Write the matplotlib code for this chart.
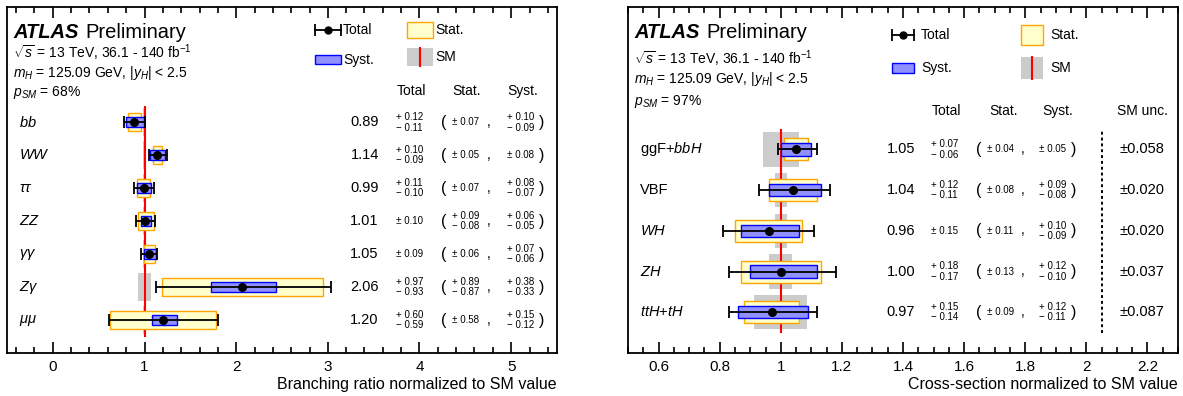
import numpy as np
import matplotlib
matplotlib.use('Agg')
from matplotlib import pyplot as plt
from matplotlib.patches import Rectangle
from matplotlib.ticker import MultipleLocator, FuncFormatter

plt.rcParams['font.family'] = ['Liberation Sans', 'DejaVu Sans']
plt.rcParams['mathtext.fontset'] = 'custom'
plt.rcParams['mathtext.rm'] = 'Liberation Sans'
plt.rcParams['mathtext.it'] = 'Liberation Sans:italic'
plt.rcParams['mathtext.bf'] = 'Liberation Sans:bold'

# branching ratios (left panel), top to bottom
brLabels = [r'$bb$', r'$WW$', r'$\tau\tau$', r'$ZZ$', r'$\gamma\gamma$', r'$Z\gamma$', r'$\mu\mu$']
brVal = [0.89, 1.14, 0.99, 1.01, 1.05, 2.06, 1.20]
brTotUp = [0.12, 0.10, 0.11, 0.10, 0.09, 0.97, 0.60]
brTotDn = [0.11, 0.09, 0.10, 0.10, 0.09, 0.93, 0.59]
brStatUp = [0.07, 0.05, 0.07, 0.09, 0.06, 0.89, 0.58]
brStatDn = [0.07, 0.05, 0.07, 0.08, 0.06, 0.87, 0.58]
brSystUp = [0.10, 0.08, 0.08, 0.06, 0.07, 0.38, 0.15]
brSystDn = [0.09, 0.08, 0.07, 0.05, 0.06, 0.33, 0.12]
brSmUnc = [0.02, 0.02, 0.02, 0.02, 0.02, 0.07, 0.02]

# production cross-sections (right panel), top to bottom
xsLabels = [r'ggF+$bbH$', 'VBF', r'$WH$', r'$ZH$', r'$ttH$+$tH$']
xsVal = [1.05, 1.04, 0.96, 1.00, 0.97]
xsTotUp = [0.07, 0.12, 0.15, 0.18, 0.15]
xsTotDn = [0.06, 0.11, 0.15, 0.17, 0.14]
xsStatUp = [0.04, 0.08, 0.11, 0.13, 0.09]
xsStatDn = [0.04, 0.08, 0.11, 0.13, 0.09]
xsSystUp = [0.05, 0.09, 0.10, 0.12, 0.12]
xsSystDn = [0.05, 0.08, 0.09, 0.10, 0.11]
xsSmUnc = [0.058, 0.020, 0.020, 0.037, 0.087]


def UncText(up, dn):
    if up == dn:
        return u'\u00b1 %.2f' % up
    return u'+ %.2f\n\u2212 %.2f' % (up, dn)


def DrawRows(ax, labels, val, totUp, totDn, statUp, statDn, systUp, systDn, smUnc, col):
    n = len(labels)
    ypos = np.arange(n)[::-1]
    ax.barh(ypos, np.multiply(smUnc, 2), left=np.subtract(1, smUnc), height=0.84,
            color='#cccccc', zorder=1)
    ax.vlines(1, -0.5, n - 0.5, colors='#ff0000', lw=1.5, zorder=2)
    ax.barh(ypos, np.add(statUp, statDn), left=np.subtract(val, statDn), height=0.54,
            color='#ffffcc', edgecolor='#ffa500', lw=1.0, zorder=3)
    ax.barh(ypos, np.add(systUp, systDn), left=np.subtract(val, systDn), height=0.3,
            color='#9090ff', edgecolor='#0000ff', lw=1.0, zorder=4)
    ax.errorbar(val, ypos, xerr=[totDn, totUp], fmt='o', color='black', ms=5.5,
                capsize=4.3, elinewidth=1.3, capthick=1.3, zorder=5)

    tr = ax.get_yaxis_transform()
    for i in range(n):
        y = ypos[i]
        ax.text(col['label'], y, labels[i], transform=tr, ha='left', va='center', fontsize=10.5)
        ax.text(col['val'], y, '%.2f' % val[i], transform=tr, ha='right', va='center', fontsize=10.5)
        ax.text(col['tot'], y, UncText(totUp[i], totDn[i]), transform=tr, ha='left',
                va='center', fontsize=7, linespacing=1.05)
        ax.text(col['lp'], y, '(', transform=tr, ha='left', va='center', fontsize=11.5)
        ax.text(col['stat'], y, UncText(statUp[i], statDn[i]), transform=tr, ha='left',
                va='center', fontsize=7, linespacing=1.05)
        ax.annotate(',', xy=(col['comma'], y), xycoords=tr, xytext=(0, -2.5),
                    textcoords='offset points', ha='left', va='baseline', fontsize=10)
        ax.text(col['syst'], y, UncText(systUp[i], systDn[i]), transform=tr, ha='left',
                va='center', fontsize=7, linespacing=1.05)
        ax.text(col['rp'], y, ')', transform=tr, ha='left', va='center', fontsize=11.5)
    for name, key in [('Total', 'hTot'), ('Stat.', 'hStat'), ('Syst.', 'hSyst')]:
        ax.text(col[key], col['hy'], name, transform=ax.transAxes, ha='center',
                va='baseline', fontsize=10)


def DrawInfo(ax, psm, ys):
    t = ax.text(0.011, ys[0], 'ATLAS', transform=ax.transAxes, fontsize=14.5,
                weight='bold', style='italic', va='baseline')
    ax.annotate('Preliminary', xy=(1, 0), xycoords=t, xytext=(5, 0),
                textcoords='offset points', fontsize=14.5, va='bottom')
    ax.text(0.011, ys[1], r'$\sqrt{s}$ = 13 TeV, 36.1 - 140 fb$^{-1}$',
            transform=ax.transAxes, fontsize=10, va='baseline')
    ax.text(0.011, ys[2], r'$m_{H}$ = 125.09 GeV, $|y_{H}|$ < 2.5',
            transform=ax.transAxes, fontsize=10, va='baseline')
    ax.text(0.011, ys[3], r'$p_{SM}$ = %d%%' % psm,
            transform=ax.transAxes, fontsize=10, va='baseline')


def DrawLegend(ax, lg):
    tA = ax.transAxes
    x0, x1 = lg['x1']
    y = lg['yTot']
    ax.plot([x0, x1], [y, y], color='k', lw=1.3, transform=tA, clip_on=False)
    ax.plot([x0, x1], [y, y], ls='none', marker='|', ms=8.6, mew=1.3, color='k',
            transform=tA, clip_on=False)
    ax.plot([(x0 + x1) / 2], [y], 'o', color='k', ms=5, transform=tA)
    ax.text(lg['t1'], y, 'Total', transform=tA, va='center', fontsize=10)

    ys0, ys1 = lg['ySyst']
    ax.add_patch(Rectangle((x0, ys0), x1 - x0, ys1 - ys0, transform=tA,
                           facecolor='#9090ff', edgecolor='#0000ff', lw=1.0))
    ax.text(lg['t1'], (ys0 + ys1) / 2, 'Syst.', transform=tA, va='center', fontsize=10)

    x2, x3 = lg['x2']
    yt0, yt1 = lg['yStat']
    ax.add_patch(Rectangle((x2, yt0), x3 - x2, yt1 - yt0, transform=tA,
                           facecolor='#ffffcc', edgecolor='#ffa500', lw=1.0))
    ax.text(lg['t2'], (yt0 + yt1) / 2, 'Stat.', transform=tA, va='center', fontsize=10)

    ym0, ym1 = lg['ySM']
    ax.add_patch(Rectangle((x2, ym0), x3 - x2, ym1 - ym0, transform=tA,
                           facecolor='#cccccc', edgecolor='none'))
    ax.plot([(x2 + x3) / 2] * 2, [ym0, ym1], color='#ff0000', lw=1.5, transform=tA)
    ax.text(lg['t2'], (ym0 + ym1) / 2, 'SM', transform=tA, va='center', fontsize=10)


def StyleAxis(ax, xlim, ylim, major, minor, xlabel):
    ax.set_xlim(*xlim)
    ax.set_ylim(*ylim)
    ax.set_yticks([])
    ax.xaxis.set_major_locator(MultipleLocator(major))
    ax.xaxis.set_minor_locator(MultipleLocator(minor))
    ax.xaxis.set_major_formatter(FuncFormatter(lambda v, p: '%g' % round(v, 3)))
    ax.tick_params(axis='x', which='both', direction='in', top=True, width=1.2,
                   labelsize=11, pad=5)
    ax.tick_params(axis='x', which='major', length=8)
    ax.tick_params(axis='x', which='minor', length=4)
    for s in ax.spines.values():
        s.set_linewidth(1.3)
    ax.set_xlabel(xlabel, loc='right', fontsize=11.5, labelpad=2)


fig = plt.figure(figsize=(11.83, 3.96), dpi=100)
axL = fig.add_axes([7 / 1183., 43 / 396., 550 / 1183., 346 / 396.])
axR = fig.add_axes([628 / 1183., 43 / 396., 550 / 1183., 346 / 396.])

colL = {'label': 0.022, 'val': 0.676, 'tot': 0.707, 'lp': 0.789, 'stat': 0.809,
        'comma': 0.872, 'syst': 0.909, 'rp': 0.968,
        'hTot': 0.736, 'hStat': 0.836, 'hSyst': 0.938, 'hy': 0.745}
DrawRows(axL, brLabels, brVal, brTotUp, brTotDn, brStatUp, brStatDn, brSystUp,
         brSystDn, brSmUnc, colL)
DrawInfo(axL, 68, [0.910, 0.853, 0.798, 0.743])
DrawLegend(axL, {'x1': (0.56, 0.607), 'yTot': 0.934, 'ySyst': (0.834, 0.861), 't1': 0.611,
                 'x2': (0.727, 0.775), 'yStat': (0.910, 0.957), 'ySM': (0.829, 0.882),
                 't2': 0.778})
StyleAxis(axL, (-0.5, 5.5), (-1, 9.5), 1, 0.2, 'Branching ratio normalized to SM value')

colR = {'label': 0.022, 'val': 0.522, 'tot': 0.551, 'lp': 0.633, 'stat': 0.653,
        'comma': 0.714, 'syst': 0.747, 'rp': 0.806,
        'hTot': 0.58, 'hStat': 0.682, 'hSyst': 0.782, 'hy': 0.688}
DrawRows(axR, xsLabels, xsVal, xsTotUp, xsTotDn, xsStatUp, xsStatDn, xsSystUp,
         xsSystDn, xsSmUnc, colR)
trR = axR.get_yaxis_transform()
axR.plot([0.862, 0.862], [-0.5, len(xsLabels) - 0.5], color='k', lw=1.4,
         ls=(0, (1.5, 1.5)), transform=trR)
for i in range(len(xsLabels)):
    axR.text(0.935, len(xsLabels) - 1 - i, u'\u00b1%.3f' % xsSmUnc[i], transform=trR,
             ha='center', va='center', fontsize=10.5)
axR.text(0.935, 0.688, 'SM unc.', transform=axR.transAxes, ha='center',
         va='baseline', fontsize=10)
DrawInfo(axR, 97, [0.910, 0.835, 0.780, 0.717])
DrawLegend(axR, {'x1': (0.48, 0.52), 'yTot': 0.919, 'ySyst': (0.809, 0.838), 't1': 0.533,
                 'x2': (0.715, 0.755), 'yStat': (0.890, 0.948), 'ySM': (0.792, 0.855),
                 't2': 0.767})
StyleAxis(axR, (0.5, 2.3), (-1, 7.5), 0.2, 0.05, 'Cross-section normalized to SM value')

plt.savefig('out.png', dpi=100)
plt.close()
